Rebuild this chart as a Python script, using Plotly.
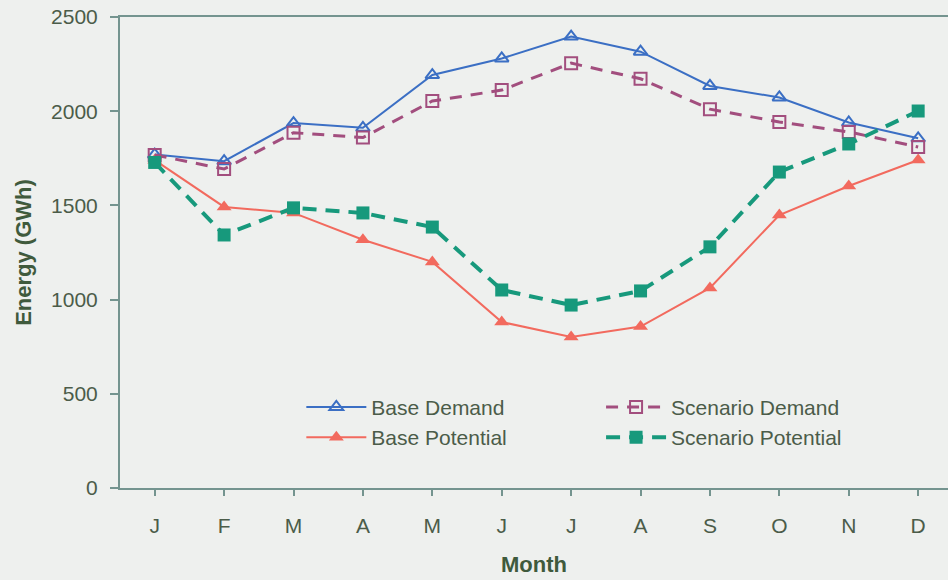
import plotly.graph_objects as go

months = ['J', 'F', 'M', 'A', 'M', 'J', 'J', 'A', 'S', 'O', 'N', 'D']
base_demand = [1770, 1735, 1937, 1912, 2192, 2280, 2396, 2316, 2134, 2073, 1940, 1856]
scenario_demand = [1768, 1693, 1886, 1860, 2054, 2112, 2255, 2172, 2011, 1943, 1890, 1810]
base_potential = [1740, 1492, 1460, 1318, 1200, 881, 801, 857, 1062, 1449, 1603, 1741]
scenario_potential = [1728, 1343, 1487, 1460, 1385, 1051, 971, 1046, 1280, 1677, 1826, 2001]

x = list(range(len(months)))
txt = '#4b5c49'
axis_col = '#74948f'

fig = go.Figure()
fig.add_trace(go.Scatter(x=x, y=base_demand, name='Base Demand', mode='lines+markers',
                         legend='legend',
                         line=dict(color='#3b6fc4', width=2),
                         marker=dict(symbol='triangle-up-open', size=12, color='#3b6fc4',
                                     line=dict(width=2))))
fig.add_trace(go.Scatter(x=x, y=base_potential, name='Base Potential', mode='lines+markers',
                         legend='legend',
                         line=dict(color='#f26a5e', width=2),
                         marker=dict(symbol='triangle-up', size=13, color='#f26a5e')))
fig.add_trace(go.Scatter(x=x, y=scenario_demand, name='Scenario Demand', mode='lines+markers',
                         legend='legend2',
                         line=dict(color='#a24e7e', width=3, dash='12px,9px'),
                         marker=dict(symbol='square-open', size=12, color='#a24e7e',
                                     line=dict(width=2))))
fig.add_trace(go.Scatter(x=x, y=scenario_potential, name='Scenario Potential', mode='lines+markers',
                         legend='legend2',
                         line=dict(color='#17997c', width=4, dash='14px,9px'),
                         marker=dict(symbol='square', size=13, color='#17997c')))

leg = dict(bgcolor='rgba(0,0,0,0)', itemwidth=60, tracegroupgap=0,
           font=dict(size=21, color=txt), xanchor='left', yanchor='top',
           xref='paper', yref='paper')

fig.update_layout(
    width=948, height=580,
    margin=dict(l=120, r=0, t=17, b=92),
    paper_bgcolor='#eef0ee', plot_bgcolor='#eef0ee',
    font=dict(family='Liberation Sans, Arial, sans-serif', color=txt, size=21),
    legend=dict(leg, x=0.219, y=0.215),
    legend2=dict(leg, x=0.581, y=0.215),
)
fig.update_xaxes(
    range=[-0.5, 11.43], tickmode='array', tickvals=x, ticktext=months,
    showgrid=False, zeroline=False, showline=True, linecolor=axis_col, linewidth=2,
    ticks='outside', tickson='boundaries', ticklen=6, tickcolor=axis_col, tickwidth=1.5,
    ticklabelstandoff=12, mirror=True, automargin=False,
    tickfont=dict(size=21, color=txt),
    title=dict(text='<b>Month</b>', font=dict(size=22, color='#3f5a3c'), standoff=20),
)
fig.update_yaxes(
    range=[0, 2500], dtick=500, showgrid=False, zeroline=False,
    showline=True, linecolor=axis_col, linewidth=2, mirror=False,
    ticks='outside', ticklen=8, tickcolor=axis_col, tickwidth=1.5,
    ticklabelstandoff=8, automargin=False,
    tickfont=dict(size=21, color=txt),
    title=dict(text='<b>Energy (GWh)</b>', font=dict(size=22, color='#3f5a3c'), standoff=13),
)

# drop the page's default body margin so the figure sits at the window corner
fig.write_html("out.html", config={'displayModeBar': False},
               post_script="document.body.style.margin='0';")
